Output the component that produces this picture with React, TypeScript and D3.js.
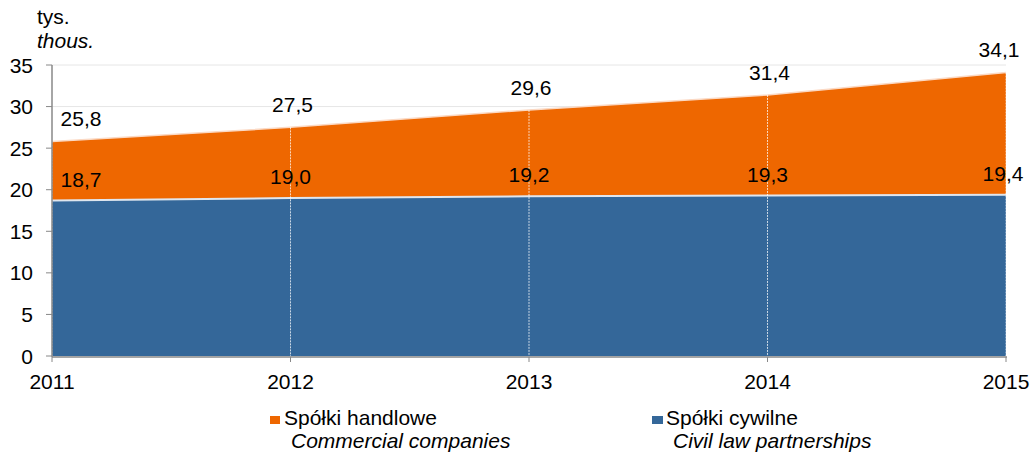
import React from "react";
import * as d3 from "d3";

const years = [2011, 2012, 2013, 2014, 2015];
const civil = [18.7, 19.0, 19.2, 19.3, 19.4];
const total = [25.8, 27.5, 29.6, 31.4, 34.1];
const yTicks = [0, 5, 10, 15, 20, 25, 30, 35];

const ORANGE = "#ee6700";
const BLUE = "#346799";
const FONT = "Liberation Sans, Arial, sans-serif";
const FS = 21;

export default function App() {
  const W = 1032, H = 454;
  const x = d3.scaleLinear().domain([2011, 2015]).range([52, 1006]);
  const y = d3.scaleLinear().domain([0, 35]).range([356, 65]);
  const data = years.map((yr, i) => ({ yr, c: civil[i], t: total[i] }));
  const blueArea = d3.area<any>().x(d => x(d.yr)).y0(y(0)).y1(d => y(d.c))(data) || "";
  const orangeArea = d3.area<any>().x(d => x(d.yr)).y0(d => y(d.c)).y1(d => y(d.t))(data) || "";
  const topLine = d3.line<any>().x(d => x(d.yr)).y(d => y(d.t))(data) || "";
  const midLine = d3.line<any>().x(d => x(d.yr)).y(d => y(d.c))(data) || "";
  const fmt = (v: number) => v.toFixed(1).replace(".", ",");
  const totX = (i: number) => (i === 0 ? x(years[i]) + 29 : i === years.length - 1 ? x(years[i]) - 7 : x(years[i]) + 2);
  const civX = (i: number) => (i === 0 ? x(years[i]) + 29 : i === years.length - 1 ? x(years[i]) - 3 : x(years[i]));
  return (
    <svg width={W} height={H} style={{ position: "absolute", left: 0, top: 0 }} fontFamily={FONT}>
      <rect width={W} height={H} fill="#fff" />
      {yTicks.map(t => (
        <line key={"g" + t} x1={52} x2={1006} y1={y(t)} y2={y(t)} stroke="#e6e6e6" strokeWidth={1} />
      ))}
      <path d={blueArea} fill={BLUE} />
      <path d={orangeArea} fill={ORANGE} />
      <path d={midLine} fill="none" stroke="#dfe6ee" strokeWidth={2} />
      <path d={topLine} fill="none" stroke="#fbd9c4" strokeWidth={1.5} />
      {years.map((yr, i) => (
        <line key={"v" + yr} x1={x(yr)} x2={x(yr)} y1={y(total[i])} y2={356} stroke="#ffffff" strokeOpacity={0.75} strokeWidth={1} strokeDasharray="2,1" />
      ))}
      {/* axes */}
      <line x1={52} x2={52} y1={y(35)} y2={357} stroke="#888" strokeWidth={1.5} />
      <line x1={52} x2={1007} y1={357} y2={357} stroke="#888" strokeWidth={1.5} />
      {yTicks.map(t => (
        <g key={"t" + t}>
          <line x1={46} x2={52} y1={y(t)} y2={y(t)} stroke="#888" strokeWidth={1} />
          <text x={33} y={y(t)} dy="0.36em" textAnchor="end" fontSize={FS} fill="#000">{t}</text>
        </g>
      ))}
      {years.map(yr => (
        <g key={"x" + yr}>
          <line x1={x(yr)} x2={x(yr)} y1={357} y2={362} stroke="#888" strokeWidth={1} />
          <text x={x(yr)} y={389} textAnchor="middle" fontSize={FS} fill="#000">{yr}</text>
        </g>
      ))}
      {/* value labels */}
      {data.map((d, i) => (
        <g key={"l" + i}>
          <text x={totX(i)} y={y(d.t) - 15} textAnchor="middle" fontSize={FS} fill="#000">{fmt(d.t)}</text>
          <text x={civX(i)} y={y(d.c) - 14} textAnchor="middle" fontSize={FS} fill="#000">{fmt(d.c)}</text>
        </g>
      ))}
      {/* unit */}
      <text x={37} y={24} fontSize={FS} fill="#000">tys.</text>
      <text x={37} y={48} fontSize={FS} fontStyle="italic" fill="#000">thous.</text>
      {/* legend */}
      <rect x={270} y={416} width={10} height={8} fill={ORANGE} />
      <text x={284} y={425} fontSize={FS} fill="#000">Spółki handlowe</text>
      <text x={291} y={448} fontSize={FS} fontStyle="italic" fill="#000">Commercial companies</text>
      <rect x={652} y={416} width={11} height={8} fill={BLUE} />
      <text x={666} y={425} fontSize={FS} fill="#000">Spółki cywilne</text>
      <text x={673} y={448} fontSize={FS} fontStyle="italic" fill="#000">Civil law partnerships</text>
    </svg>
  );
}
